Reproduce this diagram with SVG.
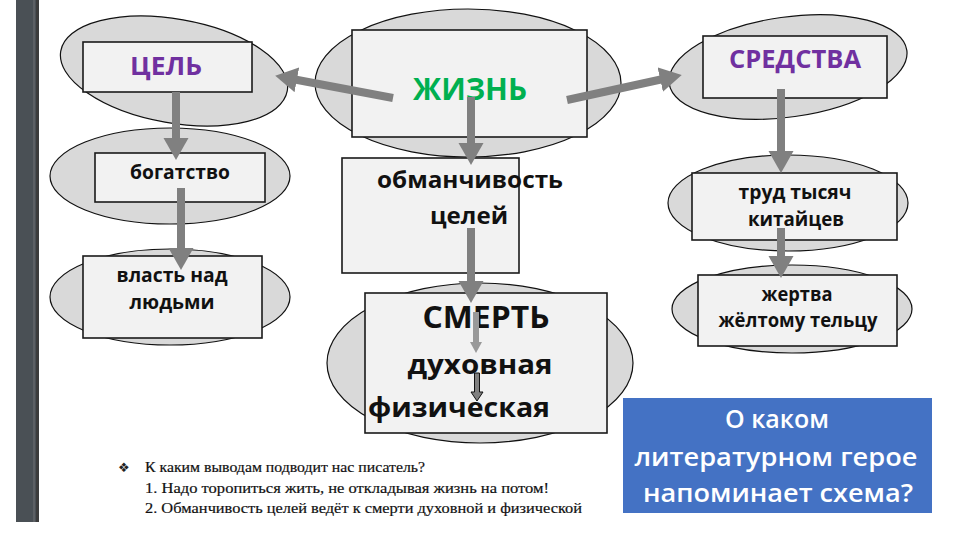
<svg xmlns="http://www.w3.org/2000/svg" width="960" height="540" viewBox="0 0 960 540">
<style>
.el{fill:#d9d9d9;stroke:#111;stroke-width:1.2}
.bx{fill:#f2f2f2;stroke:#1a1a1a;stroke-width:1.6}
.t{font-family:"Open Sans","Liberation Sans",sans-serif;font-weight:700;text-anchor:middle;fill:#111}
.h{fill:#7030a0}
.g{fill:#00b050}
.ar{stroke:#808080;stroke-width:8;fill:none}
.bt{font-family:"Liberation Serif",serif;font-size:15px;fill:#111;stroke:#111;stroke-width:0.2}
.q{font-family:"Open Sans","Liberation Sans",sans-serif;font-weight:600;font-size:25px;fill:#fff;text-anchor:middle}
</style>
<defs>
<marker id="ah" markerUnits="userSpaceOnUse" markerWidth="26" markerHeight="26" refX="10" refY="12.5" orient="auto">
<path d="M0,0 L22,12.5 L0,25 Z" fill="#808080"/>
</marker>
<marker id="ahs" markerUnits="userSpaceOnUse" markerWidth="14" markerHeight="14" refX="4" refY="6" orient="auto">
<path d="M0,0 L11,6 L0,12 Z" fill="#999"/>
</marker>
</defs>
<rect width="960" height="540" fill="#fff"/>
<rect x="16" y="0" width="23" height="522" fill="#4a5055"/>
<rect x="33" y="0" width="2" height="522" fill="#5d6064"/>
<rect x="36" y="0" width="3" height="522" fill="#3c3c3c"/>

<g id="goal">
<ellipse class="el" cx="174" cy="71" rx="115" ry="52" transform="rotate(10 174 71)"/>
<rect class="bx" x="83" y="42" width="169" height="50"/>
<text class="t h" x="166" y="75" font-size="25" textLength="72" lengthAdjust="spacingAndGlyphs">ЦЕЛЬ</text>
</g>
<g id="life">
<ellipse class="el" cx="468" cy="83" rx="153" ry="74"/>
<rect class="bx" x="352" y="30" width="235" height="107"/>
<text class="t g" x="470" y="100" font-size="30" textLength="114" lengthAdjust="spacingAndGlyphs">ЖИЗНЬ</text>
</g>
<g id="means">
<ellipse class="el" cx="788" cy="67" rx="120" ry="50" transform="rotate(-8 788 67)"/>
<rect class="bx" x="703" y="36" width="184" height="62"/>
<text class="t h" x="795" y="68" font-size="25" textLength="132" lengthAdjust="spacingAndGlyphs">СРЕДСТВА</text>
</g>
<g id="wealth">
<ellipse class="el" cx="170" cy="176" rx="120" ry="48"/>
<rect class="bx" x="95" y="153" width="170" height="49"/>
<text class="t" x="180" y="179" font-size="20" textLength="100" lengthAdjust="spacingAndGlyphs">богатство</text>
</g>
<g id="power">
<ellipse class="el" cx="170" cy="297" rx="120" ry="48"/>
<rect class="bx" x="83" y="256" width="179" height="82"/>
<text class="t" x="172" y="282" font-size="20" textLength="111" lengthAdjust="spacingAndGlyphs">власть над</text>
<text class="t" x="172" y="309" font-size="20" textLength="85" lengthAdjust="spacingAndGlyphs">людьми</text>
</g>
<g id="deceit">
<rect class="bx" x="342" y="158" width="177" height="115"/>
<text class="t" x="470" y="188" font-size="23" textLength="186" lengthAdjust="spacingAndGlyphs">обманчивость</text>
<text class="t" x="469" y="224" font-size="23" textLength="78" lengthAdjust="spacingAndGlyphs">целей</text>
</g>
<g id="death">
<ellipse class="el" cx="480" cy="363" rx="153" ry="80"/>
<rect class="bx" x="365" y="293" width="242" height="140"/>
<text class="t" x="486" y="328" font-size="30" textLength="127" lengthAdjust="spacingAndGlyphs">СМЕРТЬ</text>
<text class="t" x="480" y="374" font-size="26" textLength="145" lengthAdjust="spacingAndGlyphs">духовная</text>
<text class="t" x="459" y="417" font-size="26" textLength="182" lengthAdjust="spacingAndGlyphs">физическая</text>
</g>
<g id="labour">
<ellipse class="el" cx="788" cy="203" rx="120" ry="48"/>
<rect class="bx" x="692" y="173" width="205" height="67"/>
<text class="t" x="795" y="199" font-size="20" textLength="113" lengthAdjust="spacingAndGlyphs">труд тысяч</text>
<text class="t" x="796" y="226" font-size="20" textLength="96" lengthAdjust="spacingAndGlyphs">китайцев</text>
</g>
<g id="sacrifice">
<ellipse class="el" cx="792" cy="309" rx="120" ry="44"/>
<rect class="bx" x="698" y="275" width="199" height="71"/>
<text class="t" x="797" y="301" font-size="20" textLength="71" lengthAdjust="spacingAndGlyphs">жертва</text>
<text class="t" x="798" y="327" font-size="20" textLength="159" lengthAdjust="spacingAndGlyphs">жёлтому тельцу</text>
</g>

<g id="connectors">
<line class="ar" x1="393" y1="98" x2="287" y2="78" marker-end="url(#ah)"/>
<line class="ar" x1="567" y1="100" x2="670" y2="77.5" marker-end="url(#ah)"/>
<line class="ar" x1="176" y1="92" x2="176" y2="148" marker-end="url(#ah)"/>
<line class="ar" x1="471" y1="97" x2="471" y2="153" marker-end="url(#ah)"/>
<line class="ar" x1="781" y1="89" x2="781" y2="161" marker-end="url(#ah)"/>
<line class="ar" x1="181" y1="188" x2="181" y2="258" marker-end="url(#ah)"/>
<line class="ar" x1="471" y1="228" x2="471" y2="291" marker-end="url(#ah)"/>
<line class="ar" x1="781" y1="228" x2="781" y2="266" marker-end="url(#ah)"/>
<line x1="476" y1="312" x2="476" y2="346" stroke="#999" stroke-width="6" marker-end="url(#ahs)"/>
<path d="M474.5,373 H479.5 V392 H483 L477,401 L471,392 H474.5 Z" fill="#7f7f7f" stroke="#111" stroke-width="1"/>
</g>

<g id="question">
<rect x="623" y="398" width="309" height="115" fill="#4472c4"/>
<text class="q" x="777" y="428">О каком</text>
<text class="q" x="776" y="466" textLength="283" lengthAdjust="spacingAndGlyphs">литературном герое</text>
<text class="q" x="778" y="502" textLength="270" lengthAdjust="spacingAndGlyphs">напоминает схема?</text>
</g>

<g id="conclusions">
<text x="118" y="472" font-family="DejaVu Sans,sans-serif" font-size="13" fill="#222">❖</text>
<text class="bt" x="145" y="472" textLength="280" lengthAdjust="spacingAndGlyphs">К каким выводам подводит нас писатель?</text>
<text class="bt" x="145" y="493" textLength="404" lengthAdjust="spacingAndGlyphs">1. Надо торопиться жить, не откладывая жизнь на потом!</text>
<text class="bt" x="145" y="513" textLength="437" lengthAdjust="spacingAndGlyphs">2. Обманчивость целей ведёт к смерти духовной и физической</text>
</g>
</svg>
